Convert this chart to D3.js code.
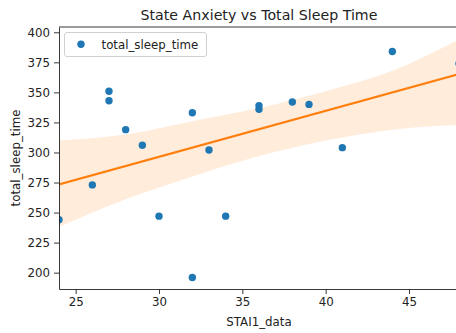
<!DOCTYPE html>
<html><head><meta charset="utf-8">
<script src="https://cdn.jsdelivr.net/npm/d3@7"></script>
<style>
html,body{margin:0;padding:0;background:#fff;overflow:hidden;}
text{font-family:"DejaVu Sans",sans-serif;}
</style></head>
<body>
<svg id="chart" width="456" height="333"></svg>
<script>
// Data
const staiValues = [24, 26, 27, 27, 28, 29, 30, 32, 32, 33, 34, 36, 36, 38, 39, 41, 44, 48];
const sleepValues = [244, 273, 351, 343, 319, 306, 247, 333, 196, 302, 247, 339, 336, 342, 340, 304, 384, 374];
// Confidence band (bootstrap 95% CI)
const ciX = [24, 28, 32, 36, 40, 44, 48];
const ciUpper = [310, 315, 326, 337, 351, 368, 394];
const ciLower = [238, 261, 280, 297, 310, 319, 323];
const xTicks = [25, 30, 35, 40, 45];
const yTicks = [200, 225, 250, 275, 300, 325, 350, 375, 400];

const margin = {left: 59, top: 27, right: 459, bottom: 289};
const svg = d3.select("#chart");
const FS = 11.8;

const x = d3.scaleLinear().domain([24, 48]).range([margin.left, margin.right]);
const y = d3.scaleLinear().domain([186.4, 404.4]).range([margin.bottom, margin.top]);

// OLS regression
const n = staiValues.length;
const mx = d3.mean(staiValues), my = d3.mean(sleepValues);
let sxy = 0, sxx = 0;
for (let i = 0; i < n; i++) { sxy += (staiValues[i]-mx)*(sleepValues[i]-my); sxx += (staiValues[i]-mx)**2; }
const slope = sxy / sxx, intercept = my - slope * mx;

svg.append("clipPath").attr("id", "clip").append("rect")
  .attr("x", margin.left).attr("y", margin.top)
  .attr("width", margin.right - margin.left).attr("height", margin.bottom - margin.top);

const plot = svg.append("g").attr("clip-path", "url(#clip)");

// CI band
const band = ciX.map((v, i) => ({x: v, lo: ciLower[i], hi: ciUpper[i]}));
plot.append("path").datum(band)
  .attr("d", d3.area().curve(d3.curveMonotoneX).x(d => x(d.x)).y0(d => y(d.lo)).y1(d => y(d.hi)))
  .attr("fill", "#ff7f0e").attr("fill-opacity", 0.15);

// Regression line
const dom = x.domain();
plot.append("line")
  .attr("x1", x(dom[0])).attr("y1", y(intercept + slope * dom[0]))
  .attr("x2", x(dom[1])).attr("y2", y(intercept + slope * dom[1]))
  .attr("stroke", "#ff7f0e").attr("stroke-width", 2.1);

// Points
plot.selectAll("circle.pt").data(staiValues).join("circle")
  .attr("class", "pt")
  .attr("cx", d => x(d)).attr("cy", (d, i) => y(sleepValues[i]))
  .attr("r", 3.7).attr("fill", "#1f77b4");

// Axes
const xAxis = svg.append("g").attr("transform", `translate(0,${margin.bottom})`)
  .call(d3.axisBottom(x).tickValues(xTicks).tickSize(5).tickPadding(4).tickSizeOuter(0));
const yAxis = svg.append("g").attr("transform", `translate(${margin.left},0)`)
  .call(d3.axisLeft(y).tickValues(yTicks).tickSize(5).tickPadding(4).tickSizeOuter(0));
[xAxis, yAxis].forEach(a => {
  a.selectAll("text").attr("font-size", FS).attr("fill", "#222").attr("font-family", "DejaVu Sans");
  a.selectAll("line").attr("stroke", "#222").attr("stroke-width", 0.9);
  a.select(".domain").attr("stroke", "#222").attr("stroke-width", 0.9);
});
// top and right spines
svg.append("line").attr("x1", margin.left).attr("x2", margin.right)
  .attr("y1", margin.top).attr("y2", margin.top).attr("stroke", "#222").attr("stroke-width", 0.9);
svg.append("line").attr("x1", margin.right).attr("x2", margin.right)
  .attr("y1", margin.top).attr("y2", margin.bottom).attr("stroke", "#222").attr("stroke-width", 0.9);

// Title and labels
const cx = (margin.left + margin.right) / 2;
svg.append("text").attr("x", cx).attr("y", 20).attr("text-anchor", "middle")
  .attr("font-size", 14.2).attr("fill", "#222").text("State Anxiety vs Total Sleep Time");
svg.append("text").attr("x", cx).attr("y", 326).attr("text-anchor", "middle")
  .attr("font-size", FS).attr("fill", "#222").text("STAI1_data");
svg.append("text").attr("transform", `translate(20,${(margin.top + margin.bottom) / 2}) rotate(-90)`)
  .attr("text-anchor", "middle").attr("font-size", FS).attr("fill", "#222").text("total_sleep_time");

// Legend
const lg = svg.append("g");
lg.append("rect").attr("x", 64.5).attr("y", 32.5).attr("width", 142).attr("height", 24)
  .attr("rx", 2.5).attr("fill", "#fff").attr("fill-opacity", 0.8).attr("stroke", "#ccc").attr("stroke-width", 0.9);
lg.append("circle").attr("cx", 81).attr("cy", 44.3).attr("r", 3.7).attr("fill", "#1f77b4");
lg.append("text").attr("x", 101.5).attr("y", 48.8).attr("font-size", FS).attr("fill", "#222").text("total_sleep_time");
</script>
</body></html>
